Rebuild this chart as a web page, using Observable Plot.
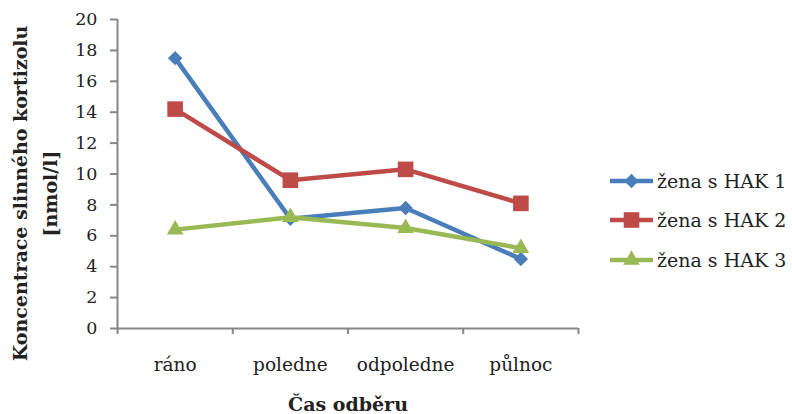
<!DOCTYPE html>
<html>
<head>
<meta charset="utf-8">
<script src="https://cdn.jsdelivr.net/npm/d3@7"></script>
<script src="https://cdn.jsdelivr.net/npm/@observablehq/plot@0.6"></script>
<style>
  body { margin: 0; background: #fff; }
  #chart { position: relative; width: 792px; height: 414px; font-family: "DejaVu Serif", serif; color: #222; }
  #legend { position: absolute; left: 610px; top: 161px; }
  .item { display: flex; align-items: center; height: 39.5px; font-size: 19px; white-space: nowrap; }
  .item svg { margin-right: 4px; display: block; }
</style>
</head>
<body>
<div id="chart"></div>
<script>
// Salivary cortisol over the day for three women with hormonal contraception
const categories = ["ráno", "poledne", "odpoledne", "půlnoc"];
const seriesNames = ["žena s HAK 1", "žena s HAK 2", "žena s HAK 3"];
const hak1 = [17.5, 7.1, 7.8, 4.5];
const hak2 = [14.2, 9.6, 10.3, 8.1];
const hak3 = [6.4, 7.2, 6.5, 5.2];
const yTicks = [0, 2, 4, 6, 8, 10, 12, 14, 16, 18, 20];
const xTitle = "Čas odběru";
const yTitle = "Koncentrace slinného kortizolu\n[nmol/l]";

const colors = ["#4A7EBB", "#BE4B48", "#98B954"];
const symbolNames = ["diamond2", "square", "triangle"];
const d3Symbols = [d3.symbolDiamond2, d3.symbolSquare, d3.symbolTriangle];
const radii = [6.5, 8.8, 6.2];
const axisColor = "#878787";

const values = [hak1, hak2, hak3];
const rows = seriesNames.flatMap((name, k) =>
  values[k].map((v, i) => ({series: name, k, i, v}))
);

// categories sit at integer positions; band edges at half steps
const xDomain = [-0.5, categories.length - 0.5];
const edges = d3.range(categories.length + 1).map(j => j - 0.5);

const seriesMarks = seriesNames.flatMap((name, k) => {
  const data = rows.filter(d => d.k === k);
  return [
    Plot.line(data, {x: "i", y: "v", stroke: colors[k], strokeWidth: 4.5, strokeLinejoin: "round"}),
    Plot.dot(data, {x: "i", y: "v", symbol: symbolNames[k], r: radii[k], fill: colors[k], stroke: "none"})
  ];
});

const chart = Plot.plot({
  width: 792,
  height: 414,
  marginLeft: 117,
  marginRight: 214,
  marginTop: 19,
  marginBottom: 86,
  style: {fontFamily: '"DejaVu Serif", serif', fontSize: "18px", color: "#222", background: "#fff"},
  x: {type: "linear", domain: xDomain},
  y: {domain: [0, 20]},
  marks: [
    Plot.axisY({ticks: yTicks, tickSize: 7, tickPadding: 13, stroke: axisColor, strokeWidth: 2, fontSize: 17.5, label: null}),
    Plot.axisX({ticks: edges, tickSize: 6, tickFormat: () => "", stroke: axisColor, strokeWidth: 2, label: null}),
    Plot.axisX({ticks: d3.range(categories.length), tickSize: 0, tickPadding: 29, tickFormat: i => categories[i], fontSize: 18.5, label: null}),
    Plot.ruleY([0], {stroke: axisColor, strokeWidth: 2}),
    Plot.ruleX([xDomain[0]], {stroke: axisColor, strokeWidth: 2}),
    ...seriesMarks,
    Plot.text([xTitle], {text: d => d, frameAnchor: "bottom", lineAnchor: "middle", dy: 76, fontWeight: "bold", fontSize: 19}),
    Plot.text([yTitle], {text: d => d, frameAnchor: "left", textAnchor: "middle", lineAnchor: "middle", rotate: -90, dx: -85, dy: 19.5, lineHeight: 1.55, fontWeight: "bold", fontSize: 19})
  ]
});

const root = document.getElementById("chart");
root.appendChild(chart);

// legend to the right of the plot
const legend = d3.select(root).append("div").attr("id", "legend");
seriesNames.forEach((name, k) => {
  const item = legend.append("div").attr("class", "item");
  const sw = item.append("svg").attr("width", 43).attr("height", 20);
  sw.append("line").attr("x1", 0).attr("x2", 43).attr("y1", 10).attr("y2", 10)
    .attr("stroke", colors[k]).attr("stroke-width", 4.5);
  sw.append("path")
    .attr("transform", "translate(21.5,10)")
    .attr("d", d3.symbol(d3Symbols[k], Math.PI * radii[k] * radii[k])())
    .attr("fill", colors[k]);
  item.append("span").text(name);
});
</script>
</body>
</html>
